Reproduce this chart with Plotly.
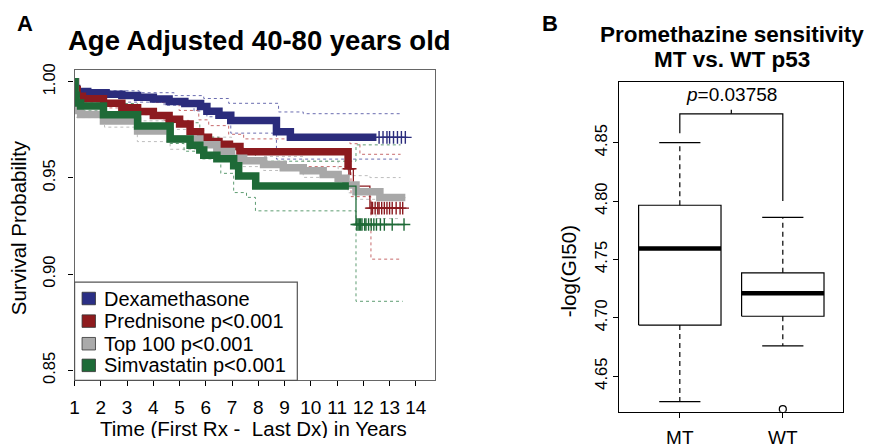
import plotly.graph_objects as go

W, H = 872, 448
FONT = "Liberation Sans, Arial, sans-serif"

# ---------------- Panel A: Kaplan-Meier data ----------------
series_names = ["Dexamethasone", "Prednisone p<0.001", "Top 100 p<0.001", "Simvastatin p<0.001"]

blue_t = [1.00, 1.03, 1.08, 1.5, 2.2, 2.8, 3.4, 4.0, 4.6, 5.2, 5.8, 6.04, 6.5, 6.95, 8.69, 9.22, 13.6]
blue_s = [1.000, 0.9965, 0.9950, 0.9943, 0.9935, 0.9928, 0.9920, 0.9910, 0.9898, 0.9887, 0.9872, 0.9847, 0.9826, 0.9799, 0.9740, 0.9711, 0.9711]
blue_up_t = [1.0, 1.08, 3.46, 4.79, 5.92, 6.87, 8.77, 9.71, 13.42]
blue_up_s = [1.0, 0.9953, 0.9943, 0.9928, 0.9913, 0.9888, 0.9843, 0.9834, 0.9834]
blue_lo_t = [1.0, 1.11, 2.14, 4.41, 5.55, 6.04, 6.95, 8.69, 13.42]
blue_lo_s = [0.999, 0.9904, 0.9894, 0.9878, 0.9848, 0.9818, 0.9733, 0.9598, 0.9598]
blue_dense_end = 12.5
blue_censor = [12.6, 12.75, 12.9, 13.0, 13.15, 13.3, 13.45, 13.6]

red_t = [1.0, 1.03, 1.1, 1.3, 2.1, 2.8, 3.4, 4.0, 4.6, 5.0, 5.4, 5.8, 6.1, 6.5, 6.9, 7.3, 11.42, 11.62, 12.25, 13.5]
red_s = [1.0, 0.996, 0.9925, 0.9912, 0.9888, 0.9865, 0.9846, 0.9825, 0.9805, 0.978, 0.974, 0.9712, 0.969, 0.9675, 0.9663, 0.9636, 0.9548, 0.9458, 0.9343, 0.9343]
red_up_t = [1.0, 1.08, 2.52, 4.03, 4.98, 5.73, 6.11, 6.87, 7.44, 11.49, 11.87, 13.42]
red_up_s = [1.0, 0.994, 0.9922, 0.9892, 0.9851, 0.9802, 0.9772, 0.9727, 0.9703, 0.9678, 0.9623, 0.9623]
red_lo_t = [1.0, 1.11, 2.14, 3.27, 4.41, 5.36, 5.92, 6.49, 7.44, 8.27, 11.53, 12.29, 13.42]
red_lo_s = [0.9995, 0.9889, 0.9864, 0.9829, 0.9799, 0.9749, 0.9699, 0.9659, 0.9599, 0.9559, 0.9403, 0.9078, 0.9078]
red_dense_end = 11.42
red_censor = [11.45, 11.5, 12.3, 12.35, 12.45, 12.55, 12.6, 12.7, 12.8, 12.9, 13.0, 13.1, 13.25, 13.4, 13.5]

gray_t = [1.0, 1.02, 1.05, 1.23, 2.1, 3.4, 4.64, 5.77, 6.42, 6.98, 7.44, 8.2, 8.95, 9.71, 10.47, 11.04, 11.34, 11.72, 12.63, 13.6]
gray_s = [1.0, 0.99, 0.985, 0.983, 0.9796, 0.9744, 0.9703, 0.9673, 0.9638, 0.9603, 0.959, 0.957, 0.9553, 0.9538, 0.9518, 0.9498, 0.9463, 0.9428, 0.9398, 0.9398]
gray_up_t = [1.0, 1.08, 2.14, 3.39, 4.64, 5.77, 6.98, 8.2, 9.71, 11.04, 11.42, 12.25, 13.42]
gray_up_s = [1.0, 0.9887, 0.9837, 0.9797, 0.9752, 0.9712, 0.9647, 0.9612, 0.9587, 0.9547, 0.9512, 0.9502, 0.9502]
gray_lo_t = [1.0, 1.08, 2.14, 3.39, 4.64, 5.77, 6.98, 8.2, 9.71, 11.04, 11.42, 11.72, 12.48, 13.42]
gray_lo_s = [0.9994, 0.9814, 0.9764, 0.9689, 0.9649, 0.9629, 0.9559, 0.9539, 0.9503, 0.9463, 0.9423, 0.9389, 0.9289, 0.9289]
gray_dense_end = 13.6
gray_censor = []

green_t = [1.0, 1.02, 1.06, 1.23, 2.1, 3.4, 4.64, 5.4, 5.77, 5.92, 6.42, 7.06, 7.25, 7.9, 11.72, 13.6]
green_s = [1.0, 0.993, 0.989, 0.9874, 0.9828, 0.977, 0.9703, 0.967, 0.9645, 0.9618, 0.960, 0.9563, 0.951, 0.9458, 0.9258, 0.9258]
green_up_t = [1.0, 1.08, 2.14, 3.39, 4.64, 5.77, 6.49, 7.17, 7.89, 11.72, 13.42]
green_up_s = [1.0, 0.9917, 0.9887, 0.9837, 0.9787, 0.9712, 0.9677, 0.9637, 0.9587, 0.9672, 0.9672]
green_lo_t = [1.0, 1.08, 2.14, 3.39, 4.64, 5.17, 5.81, 6.57, 7.06, 7.55, 7.89, 11.72, 13.5]
green_lo_s = [0.9995, 0.9849, 0.9799, 0.9739, 0.9679, 0.9639, 0.9599, 0.9524, 0.9424, 0.9399, 0.9329, 0.8859, 0.8859]
green_dense_end = 11.45
green_censor = [11.75, 11.8, 11.85, 11.9, 11.95, 12.05, 12.1, 12.2, 12.3, 12.4, 12.5, 12.65, 12.8, 13.1, 13.55]

x_ticks = list(range(1, 15))
y_ticks = [0.85, 0.90, 0.95, 1.00]
y_ticklabels = ["0.85", "0.90", "0.95", "1.00"]

# ---------------- Panel B: boxplot data ----------------
groups = ["MT", "WT"]
box_lowwhisk = [4.6281, 4.6760]
box_q1 = [4.6937, 4.7013]
box_median = [4.7594, 4.7209]
box_q3 = [4.7964, 4.7385]
box_upwhisk = [4.8500, 4.7860]
outliers_x = ["WT"]
outliers_y = [4.6217]
p_text = "<i>p</i>=0.03758"
bracket_y = 4.8747
bracket_left_end = 4.858
bracket_right_end = 4.800
b_ticks = [4.65, 4.70, 4.75, 4.80, 4.85]
b_ticklabels = ["4.65", "4.70", "4.75", "4.80", "4.85"]

# ---------------- styles ----------------
curve_cols = ["#2B2C7C", "#8C1A1F", "#A8A8A8", "#1E6A37"]
ci_cols = ["#6B6DB0", "#C76A6C", "#BDBDBD", "#5E9C72"]
legend_cols = ["#2B2F85", "#8E1B1E", "#AAAAAA", "#1D6B37"]

fig = go.Figure()

curves = [
    (blue_t, blue_s, blue_up_t, blue_up_s, blue_lo_t, blue_lo_s, blue_dense_end, blue_censor),
    (red_t, red_s, red_up_t, red_up_s, red_lo_t, red_lo_s, red_dense_end, red_censor),
    (gray_t, gray_s, gray_up_t, gray_up_s, gray_lo_t, gray_lo_s, gray_dense_end, gray_censor),
    (green_t, green_s, green_up_t, green_up_s, green_lo_t, green_lo_s, green_dense_end, green_censor),
]

for i, (t, s, ut, us, lt, ls, dend, cen) in enumerate(curves):
    for xx, yy in ((ut, us), (lt, ls)):
        fig.add_trace(go.Scatter(x=xx, y=yy, mode="lines", line=dict(color=ci_cols[i], width=1, dash="3px,3px", shape="hv"),
                                 xaxis="x", yaxis="y", showlegend=False, hoverinfo="skip"))


def step_value(t, s, x):
    v = s[0]
    for tt, ss in zip(t, s):
        if tt <= x:
            v = ss
    return v


for i, (t, s, ut, us, lt, ls, dend, cen) in enumerate(curves):
    fig.add_trace(go.Scatter(x=t, y=s, mode="lines", line=dict(color=curve_cols[i], width=1.3, shape="hv"),
                             xaxis="x", yaxis="y", showlegend=False, hoverinfo="skip"))
    dt = [tt for tt in t if tt < dend] + [dend]
    ds = [ss for tt, ss in zip(t, s) if tt < dend] + [step_value(t, s, dend)]
    fig.add_trace(go.Scatter(x=dt, y=ds, mode="lines", line=dict(color=curve_cols[i], width=7.5, shape="hv"),
                             xaxis="x", yaxis="y", showlegend=False, hoverinfo="skip"))
    if cen:
        fig.add_trace(go.Scatter(x=cen, y=[step_value(t, s, c) for c in cen], mode="markers",
                                 marker=dict(symbol="cross-thin", size=9, line=dict(color=curve_cols[i], width=1.4)),
                                 xaxis="x", yaxis="y", showlegend=False, hoverinfo="skip"))

# ---------------- Panel B traces ----------------
bw = 0.4
cw = 0.2
for gi, g in enumerate(groups):
    xc = gi + 1
    fig.add_trace(go.Scatter(x=[xc, xc, None, xc, xc], y=[box_q3[gi], box_upwhisk[gi], None, box_q1[gi], box_lowwhisk[gi]],
                             mode="lines", line=dict(color="black", width=1.2, dash="5px,4px"),
                             xaxis="x2", yaxis="y2", showlegend=False, hoverinfo="skip"))
    fig.add_trace(go.Scatter(x=[xc - cw, xc + cw, None, xc - cw, xc + cw],
                             y=[box_upwhisk[gi], box_upwhisk[gi], None, box_lowwhisk[gi], box_lowwhisk[gi]],
                             mode="lines", line=dict(color="black", width=1.2),
                             xaxis="x2", yaxis="y2", showlegend=False, hoverinfo="skip"))
    fig.add_trace(go.Scatter(x=[xc - bw, xc + bw, xc + bw, xc - bw, xc - bw],
                             y=[box_q1[gi], box_q1[gi], box_q3[gi], box_q3[gi], box_q1[gi]],
                             mode="lines", line=dict(color="black", width=1.2),
                             xaxis="x2", yaxis="y2", showlegend=False, hoverinfo="skip"))
    fig.add_trace(go.Scatter(x=[xc - bw, xc + bw], y=[box_median[gi], box_median[gi]],
                             mode="lines", line=dict(color="black", width=4.5),
                             xaxis="x2", yaxis="y2", showlegend=False, hoverinfo="skip"))

fig.add_trace(go.Scatter(x=[groups.index(g) + 1 for g in outliers_x], y=outliers_y, mode="markers",
                         marker=dict(symbol="circle-open", size=7, color="black", line=dict(width=1.2)),
                         xaxis="x2", yaxis="y2", showlegend=False, hoverinfo="skip"))

fig.add_trace(go.Scatter(x=[1, 1, 2, 2, None, 1.5, 1.5], y=[bracket_left_end, bracket_y, bracket_y, bracket_right_end, None, bracket_y, bracket_y + 0.0035],
                         mode="lines", line=dict(color="black", width=1.2),
                         xaxis="x2", yaxis="y2", showlegend=False, hoverinfo="skip"))


def px(x):
    return x / W


def py(y):
    return 1 - y / H


annotations = []
def ann(text, x, y, size, bold=False, angle=0, xanchor="center", yanchor="middle", height=None):
    t = "<b>%s</b>" % text if bold else text
    d = dict(text=t, x=px(x), y=py(y), xref="paper", yref="paper", showarrow=False, textangle=angle,
             xanchor=xanchor, yanchor=yanchor, font=dict(family=FONT, size=size, color="black"))
    if height is not None:
        d["height"] = height
        d["borderpad"] = 0
    annotations.append(d)

ann("A", 20, 17, 22, bold=True)
ann("Age Adjusted 40-80 years old", 256, 35, 27.5, bold=True)
ann("Survival Probability", 13, 229, 20.5, angle=-90)
ann("Time (First Rx - \u00a0Last Dx) in Years", 250, 438, 20.5, height=20)
ann("B", 548, 17, 22, bold=True)
ann("Promethazine sensitivity", 731, 29, 22.5, bold=True)
ann("MT vs. WT p53", 731, 55, 22.5, bold=True)
ann("-log(GI50)", 567, 275, 20.5, angle=-90)
annotations.append(dict(text=p_text, x=1.5, y=4.8912, xref="x2", yref="y2", showarrow=False,
                        xanchor="center", yanchor="middle", font=dict(family=FONT, size=19, color="black")))

shapes = []
shapes.append(dict(type="rect", xref="paper", yref="paper", x0=px(70), x1=px(294), y0=py(388), y1=py(286),
                   line=dict(color="#555555", width=1.2), fillcolor="white", layer="above"))
row_y = [303, 326.5, 350, 372.5]
for i, name in enumerate(series_names):
    shapes.append(dict(type="rect", xref="paper", yref="paper", x0=px(77.5), x1=px(91), y0=py(row_y[i] + 6.5), y1=py(row_y[i] - 6.5),
                       line=dict(color="#333333", width=0.8), fillcolor=legend_cols[i], layer="above"))
    ann(name, 98, row_y[i], 20, xanchor="left")

fig.update_layout(
    width=W, height=H, margin=dict(l=0, r=0, t=0, b=0),
    paper_bgcolor="white", plot_bgcolor="white",
    showlegend=False,
    font=dict(family=FONT, color="black"),
    annotations=annotations, shapes=shapes,
    xaxis=dict(domain=[px(70), px(432)], range=[1, 14.712], tickvals=x_ticks, ticktext=[str(v) for v in x_ticks],
               showgrid=False, zeroline=False, showline=True, mirror=True, linecolor="#666666", linewidth=1.2,
               ticks="outside", ticklen=5, tickcolor="black", tickwidth=1, tickfont=dict(size=19), anchor="y",
               ticklabelstandoff=5),
    yaxis=dict(domain=[py(388), py(66)], range=[0.84485, 1.00585], tickvals=y_ticks, ticktext=y_ticklabels,
               showgrid=False, zeroline=False, showline=True, mirror=True, linecolor="#666666", linewidth=1.2,
               ticks="outside", ticklen=5, tickcolor="black", tickwidth=1, tickangle=-90, tickfont=dict(size=16.5), anchor="x",
               ticklabelstandoff=7),
    xaxis2=dict(domain=[px(618), px(843)], range=[0.414, 2.586], tickvals=[1, 2], ticktext=groups,
                showgrid=False, zeroline=False, showline=True, mirror=True, linecolor="black", linewidth=1.2,
                ticks="outside", ticklen=5, tickcolor="black", tickfont=dict(size=19), anchor="y2",
                ticklabelstandoff=3),
    yaxis2=dict(domain=[py(420.7), py(77.7)], range=[4.6195, 4.9022], tickvals=b_ticks, ticktext=b_ticklabels,
                showgrid=False, zeroline=False, showline=True, mirror=True, linecolor="black", linewidth=1.2,
                ticks="outside", ticklen=5, tickcolor="black", tickangle=-90, tickfont=dict(size=16.5), anchor="x2"),
)

fig.write_html("out.html", config={"displayModeBar": False},
               post_script="document.body.style.margin='0px';document.body.style.overflow='hidden';")
